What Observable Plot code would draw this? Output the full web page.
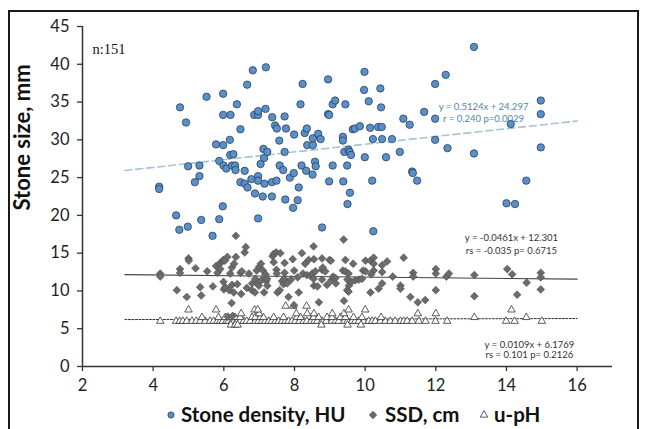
<!DOCTYPE html>
<html><head><meta charset="utf-8">
<script src="https://cdn.jsdelivr.net/npm/d3@7"></script>
<script src="https://cdn.jsdelivr.net/npm/@observablehq/plot@0.6"></script>
<style>
html,body{margin:0;padding:0;background:#fff;overflow:hidden;}
#wrap{position:relative;width:646px;height:429px;overflow:hidden;font-family:Lato,"Open Sans",sans-serif;}
#chart{position:absolute;left:0;top:0;}
#legend{position:absolute;left:0;top:398px;}
#frame{position:absolute;left:8px;top:10px;width:631px;height:460px;border:2.5px solid #1a1a1a;box-sizing:border-box;pointer-events:none;}
</style></head>
<body><div id="wrap"><div id="chart"></div><div id="legend"></div><div id="frame"></div></div>
<script>
// ---- data ----
const seriesNames = ["Stone density, HU", "SSD, cm", "u-pH"];
const xTicks = [2, 4, 6, 8, 10, 12, 14, 16];
const yTicks = [0, 5, 10, 15, 20, 25, 30, 35, 40, 45];

const densityX = [4.17,4.17,4.65,4.74,4.76,4.93,4.98,4.99,5.18,5.31,5.31,5.36,5.51,5.68,5.78,5.87,5.87,5.98,5.98,5.98,5.99,5.97,6.07,6.17,6.19,6.18,6.27,6.23,6.32,6.33,6.37,6.47,6.47,6.59,6.59,6.67,6.66,6.78,6.82,6.86,6.88,6.97,6.97,6.97,6.97,6.97,7.04,7.1,7.12,7.14,7.15,7.18,7.19,7.23,7.36,7.36,7.37,7.45,7.5,7.49,7.58,7.57,7.68,7.72,7.72,7.76,7.74,7.87,7.96,7.98,7.99,8.09,8.12,8.17,8.2,8.23,8.29,8.33,8.35,8.36,8.51,8.52,8.52,8.58,8.6,8.67,8.74,8.78,8.95,8.95,8.98,8.98,9.08,9.08,9.15,9.37,9.37,9.38,9.44,9.41,9.49,9.5,9.53,9.56,9.57,9.6,9.65,9.71,9.85,9.97,9.98,9.99,10.1,10.14,10.2,10.22,10.23,10.37,10.43,10.45,10.47,10.48,10.59,10.76,10.98,11.08,11.26,11.33,11.35,11.47,11.67,11.98,11.98,11.98,12.28,12.33,13.08,13.08,14.0,14.12,14.24,14.56,14.97,14.97,14.97];
const densityY = [23.8,23.5,20.0,18.1,34.3,32.3,18.5,26.5,24.4,26.6,25.2,19.4,35.7,17.3,29.4,27.2,19.5,36.1,33.3,29.3,26.6,21.2,26.2,30.0,33.3,28.0,28.1,26.6,26.6,26.0,34.7,31.4,24.4,25.9,24.2,23.7,37.3,24.8,39.2,33.3,22.9,33.3,33.8,25.2,24.6,19.6,26.8,22.5,28.8,27.6,24.2,34.1,39.6,28.4,22.5,24.4,33.0,31.9,31.5,24.6,26.6,29.9,26.0,33.1,28.4,31.5,22.1,25.0,21.0,25.6,30.7,22.0,23.7,34.7,26.6,37.4,30.9,25.9,31.5,29.3,25.4,29.3,30.2,27.1,26.5,30.8,30.1,18.4,38.0,33.4,33.3,24.5,26.6,34.7,35.2,30.4,29.9,24.5,34.7,28.4,26.6,21.5,28.7,28.4,23.0,28.0,31.4,31.5,31.8,36.6,39.0,27.7,35.1,31.6,24.6,30.1,17.9,31.7,36.8,34.3,31.7,30.1,27.7,30.1,28.4,32.8,32.0,25.8,25.6,24.6,33.7,37.4,32.8,30.0,38.6,28.9,42.3,28.2,21.6,32.1,21.5,24.6,35.2,33.4,29.0];

const ssdX = [4.2,4.2,4.67,4.76,4.76,4.95,5.0,5.01,5.2,5.33,5.36,5.53,5.69,5.78,5.82,5.88,5.9,5.95,5.99,6.03,5.99,6.0,6.04,6.15,6.1,6.18,6.22,6.23,6.23,6.29,6.28,6.34,6.34,6.38,6.47,6.49,6.51,6.59,6.62,6.65,6.71,6.79,6.8,6.88,6.89,6.93,6.96,6.99,7.0,7.05,7.08,7.11,7.14,7.18,7.2,7.22,7.23,7.38,7.41,7.41,7.48,7.49,7.5,7.52,7.58,7.6,7.65,7.69,7.71,7.72,7.79,7.72,7.83,7.9,7.95,7.99,7.99,8.09,8.12,8.21,8.24,8.3,8.35,8.4,8.45,8.5,8.54,8.54,8.55,8.55,8.59,8.65,8.69,8.78,8.78,8.8,8.87,8.78,8.92,8.99,9.03,9.04,9.09,9.16,9.17,9.39,9.4,9.44,9.37,9.44,9.53,9.49,9.54,9.53,9.5,9.61,9.66,9.72,9.82,9.91,9.94,10.01,10.01,10.15,10.15,10.24,10.24,10.24,10.17,10.38,10.48,10.48,10.48,10.62,10.78,11.0,11.0,11.09,11.28,11.36,11.36,11.49,11.7,12.0,12.0,12.0,12.3,12.37,13.09,13.09,14.02,14.16,14.3,14.57,14.97,14.97,14.97,6.11,6.25];
const ssdY = [12.3,11.9,10.1,12.9,12.4,9.2,14.3,14.0,13.0,10.5,9.4,12.6,10.6,13.3,12.4,13.6,12.9,13.9,14.1,14.0,11.2,10.2,10.5,10.1,14.5,12.3,8.4,13.1,10.8,13.6,9.8,14.5,17.3,10.9,12.4,9.6,12.6,15.1,15.8,10.4,12.3,10.1,11.0,9.8,11.6,12.7,11.0,10.7,13.2,13.6,11.5,12.7,9.8,12.2,11.3,11.6,10.7,14.6,14.9,13.8,15.1,12.8,12.3,9.8,10.1,15.0,11.3,10.9,11.6,13.7,11.0,12.4,9.2,11.5,14.2,8.1,12.7,11.8,9.8,15.0,12.3,13.6,12.1,14.1,12.0,12.3,11.6,15.9,14.2,10.7,12.6,10.6,8.5,14.3,12.8,13.1,12.6,11.5,10.8,14.1,14.0,11.4,11.9,11.7,11.0,16.8,8.7,14.1,12.7,12.6,12.3,10.1,10.7,9.9,11.5,11.2,13.6,11.4,11.5,11.6,12.7,12.6,14.0,14.0,9.8,14.4,13.6,12.7,12.2,10.3,13.4,12.5,11.0,13.9,11.9,10.7,10.3,14.4,9.2,12.4,11.9,8.5,8.8,12.9,12.3,10.1,11.9,12.3,12.1,9.3,12.9,12.2,9.5,11.1,12.4,11.8,10.2,6.6,6.7];

const phX = [4.2,4.65,4.75,4.84,4.95,5.1,5.22,5.33,5.47,5.61,5.71,5.82,5.9,5.97,6.07,6.13,6.23,6.29,6.37,6.46,6.56,6.65,6.75,6.89,6.98,7.08,7.17,7.27,7.36,7.46,7.55,7.65,7.74,7.83,7.93,8.02,8.14,8.26,8.35,8.47,8.56,8.64,8.78,8.9,9.06,9.16,9.25,9.41,9.5,9.63,9.72,9.82,9.96,10.1,10.2,10.29,10.43,10.57,10.71,10.85,11.0,11.09,11.19,11.33,11.52,11.71,11.99,12.32,13.99,14.23,15.0,
  5.38,5.85,6.04,6.23,6.32,6.46,6.8,6.89,7.03,7.12,7.41,7.69,8.07,8.17,8.54,8.68,8.92,9.06,9.3,9.44,9.67,9.91,10.45,13.09,14.56,
  6.49,7.0,8.05,8.36,8.55,9.07,9.4,11.49,12.0,
  5.0,5.78,6.87,6.96,9.53,10.0,14.14,
  7.75,7.97,8.34,
  6.2,6.32,6.39,8.76,9.5,9.88];
const phY = [6,6,6,6,6,6,6,6,6,6,6,6,6,6,6,6,6,6,6,6,6,6,6,6,6,6,6,6,6,6,6,6,6,6,6,6,6,6,6,6,6,6,6,6,6,6,6,6,6,6,6,6,6,6,6,6,6,6,6,6,6,6,6,6,6,6,6,6,6,6,6,
  6.5,6.5,6.5,6.5,6.5,6.5,6.5,6.5,6.5,6.5,6.5,6.5,6.5,6.5,6.5,6.5,6.5,6.5,6.5,6.5,6.5,6.5,6.5,6.5,6.5,
  7,7,7,7,7,7,7,7,7,
  7.5,7.5,7.5,7.5,7.5,7.5,7.5,
  8,8,8,
  5.5,5.5,5.5,5.5,5.5,5.5];

// trend lines (fits as printed on the chart)
const trendSlopes = [0.5124, -0.0461, 0.0109];
const trendIntercepts = [24.297, 12.301, 6.1769];
const trendRange = [3.2, 16];
const trendText = [
  ["y = 0.5124x + 24.297", "r = 0.240 p=0.0029"],
  ["y = -0.0461x + 12.301", "rs = -0.035 p= 0.6715"],
  ["y = 0.0109x + 6.1769", "rs = 0.101 p= 0.2126"]
];
const nLabel = "n:151";
const yLabel = "Stone size, mm";

// ---- styles / layout ----
const colors = {blueFill:"#5b8fc8", blueStroke:"#26405e", dFill:"#6b6b6b", dStroke:"#4a4a4a", tri:"#333", trendBlue:"#a6c3d6", annBlue:"#4d87a7"};
const annPos = [ {x:13.35, y:[34.4, 32.7]}, {x:14.14, y:[17.0, 15.27]}, {x:14.65, y:[2.9, 1.5]} ];

const pts = (xs, ys) => xs.map((x, i) => ({x, y: ys[i]}));
const density = pts(densityX, densityY);
const ssd = pts(ssdX, ssdY);
const ph = pts(phX, phY);
const trends = trendSlopes.map((m, k) => trendRange.map(x => ({x, y: m * x + trendIntercepts[k]})));

const annData = [];
trendText.forEach((lines, k) => lines.forEach((t, j) => annData.push({x: annPos[k].x, y: annPos[k].y[j], t, k})));

const chart = Plot.plot({
  width: 646, height: 398,
  marginLeft: 82, marginRight: 34, marginTop: 26, marginBottom: 32,
  style: {fontFamily: "Lato, 'Open Sans', sans-serif", color: "#222", background: "transparent", overflow: "visible"},
  x: {domain: [2, 17]},
  y: {domain: [0, 45]},
  marks: [
    Plot.ruleX([2], {y1: 0, y2: 45, stroke: "#333", strokeWidth: 1.5}),
    Plot.ruleY([0], {x1: 2, x2: 17, stroke: "#333", strokeWidth: 1.5}),
    Plot.axisX({ticks: xTicks, tickSize: 5, tickPadding: 8, fontSize: 16.5, label: null, tickFormat: d => String(d), stroke: "#333", strokeWidth: 1.3}),
    Plot.axisY({ticks: yTicks, tickSize: 5, tickPadding: 8, fontSize: 16.5, label: null, tickFormat: d => String(d), stroke: "#333", strokeWidth: 1.3}),
    Plot.line(trends[0], {x: "x", y: "y", stroke: colors.trendBlue, strokeWidth: 1.6, strokeDasharray: "7,4"}),
    Plot.line(trends[1], {x: "x", y: "y", stroke: "#444", strokeWidth: 1.1}),
    Plot.line(trends[2], {x: "x", y: "y", stroke: "#333", strokeWidth: 1, strokeDasharray: "2,1.5"}),
    Plot.dot(ph, {x: "x", y: "y", symbol: "triangle", r: 2.8, fill: "white", stroke: colors.tri, strokeWidth: 0.8}),
    Plot.dot(ssd, {x: "x", y: "y", symbol: "diamond2", r: 3.5, fill: colors.dFill, stroke: colors.dStroke, strokeWidth: 0.6}),
    Plot.dot(density, {x: "x", y: "y", symbol: "circle", r: 3.7, fill: colors.blueFill, stroke: colors.blueStroke, strokeWidth: 0.8}),
    Plot.text(annData, {x: "x", y: "y", text: "t", fontSize: 9.5, textAnchor: "middle", fill: d => d.k === 0 ? colors.annBlue : "#333"}),
    Plot.text([nLabel], {frameAnchor: "top-left", dx: 10, dy: 17, fontSize: 14.5, fontFamily: "'Liberation Serif', serif", fill: "#111"}),
    Plot.text([yLabel], {frameAnchor: "left", rotate: -90, dx: -60, dy: 14, fontSize: 22, fontWeight: "bold", fill: "#111"})
  ]
});
document.getElementById("chart").appendChild(chart);

// ---- legend ----
const legendItems = [
  {sym: d3.symbolCircle, size: 30, fill: colors.blueFill, stroke: colors.blueStroke, sx: 171, tx: 181},
  {sym: d3.symbolDiamond2, size: 34, fill: colors.dFill, stroke: colors.dStroke, sx: 373, tx: 385},
  {sym: d3.symbolTriangle, size: 24, fill: "white", stroke: "#333", sx: 484, tx: 494}
];
const lsvg = d3.select("#legend").append("svg").attr("width", 646).attr("height", 31);
legendItems.forEach((it, i) => {
  lsvg.append("path").attr("d", d3.symbol(it.sym, it.size)()).attr("transform", `translate(${it.sx},17)`)
    .attr("fill", it.fill).attr("stroke", it.stroke).attr("stroke-width", 0.8);
  lsvg.append("text").attr("x", it.tx).attr("y", 17).attr("dy", "0.35em")
    .attr("font-family", "Lato, 'Open Sans', sans-serif").attr("font-weight", "bold").attr("font-size", 20.5)
    .attr("fill", "#111").text(seriesNames[i]);
});
</script>
</body></html>
